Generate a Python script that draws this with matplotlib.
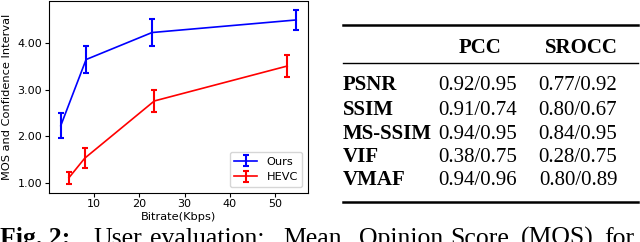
import matplotlib
matplotlib.use("Agg")
import matplotlib.pyplot as plt
from matplotlib.lines import Line2D

# MOS curves (bitrate in Kbps, mean opinion score, confidence interval half width)
ours_rate = [2.6, 8.2, 22.8, 54.7]
ours_mos = [2.23, 3.65, 4.23, 4.50]
ours_ci = [0.27, 0.28, 0.28, 0.21]

hevc_rate = [4.4, 7.9, 23.3, 52.7]
hevc_mos = [1.11, 1.53, 2.76, 3.51]
hevc_ci = [0.13, 0.21, 0.23, 0.23]

# correlation table
metrics = ["PSNR", "SSIM", "MS-SSIM", "VIF", "VMAF"]
pcc = ["0.92/0.95", "0.91/0.74", "0.94/0.95", "0.38/0.75", "0.94/0.96"]
srocc = ["0.77/0.92", "0.80/0.67", "0.84/0.95", "0.28/0.75", "0.80/0.89"]
col_names = ["PCC", "SROCC"]

caption_words = ["User", "evaluation:", "Mean", "Opinion", "Score", "(MOS)", "for"]
caption_x = [93, 150, 283, 359, 450, 521, 604]

W, H = 640, 242
fig = plt.figure(figsize=(6.4, 2.42), dpi=100)

ax = fig.add_axes([49 / W, 1 - 192.5 / H, (308 - 49) / W, (192.5 - 1.5) / H])
ax.errorbar(ours_rate, ours_mos, yerr=ours_ci, color="blue", lw=1.2,
            elinewidth=1.5, capsize=2, capthick=1.5, label="Ours")
ax.errorbar(hevc_rate, hevc_mos, yerr=hevc_ci, color="red", lw=1.2,
            elinewidth=1.5, capsize=2, capthick=1.5, label="HEVC")
ax.set_xticks([10, 20, 30, 40, 50])
ax.set_yticks([1, 2, 3, 4])
ax.yaxis.set_major_formatter(matplotlib.ticker.FormatStrFormatter("%.2f"))
ax.tick_params(labelsize=8, length=3, pad=2)
ax.set_xlabel("Bitrate(Kbps)", fontsize=8.2, labelpad=2)
ax.set_ylabel("MOS and Confidence Interval", fontsize=8.2, labelpad=4)
ax.legend(loc="lower right", fontsize=8.2)

# table (booktabs style)
serif = "Liberation Serif"
def fy(py):
    return 1 - py / H

fig.add_artist(Line2D([343 / W, 638 / W], [fy(25), fy(25)], color="black", lw=1.8))
fig.add_artist(Line2D([343 / W, 638 / W], [fy(63), fy(63)], color="black", lw=1.0))
fig.add_artist(Line2D([343 / W, 638 / W], [fy(202), fy(202)], color="black", lw=1.8))

fig.text(480 / W, fy(53), col_names[0], fontsize=15, family=serif, weight="bold", ha="center", va="baseline")
fig.text(581 / W, fy(53), col_names[1], fontsize=15, family=serif, weight="bold", ha="center", va="baseline")
row_base = [90, 115, 139, 162, 185]
for i, m in enumerate(metrics):
    fig.text(343 / W, fy(row_base[i]), m, fontsize=15, family=serif, weight="bold", ha="left", va="baseline")
    fig.text(478 / W, fy(row_base[i]), pcc[i], fontsize=15, family=serif, ha="center", va="baseline")
    fig.text(578 / W, fy(row_base[i]), srocc[i], fontsize=15, family=serif, ha="center", va="baseline")

# caption, cut off at the bottom like in the paper crop
fig.text(0, fy(245), "Fig. 2:", fontsize=18.5, family=serif, weight="bold", ha="left", va="baseline")
for wd, x in zip(caption_words, caption_x):
    fig.text(x / W, fy(245), wd, fontsize=18.5, family=serif, ha="left", va="baseline")

fig.savefig("out.png", dpi=100)
